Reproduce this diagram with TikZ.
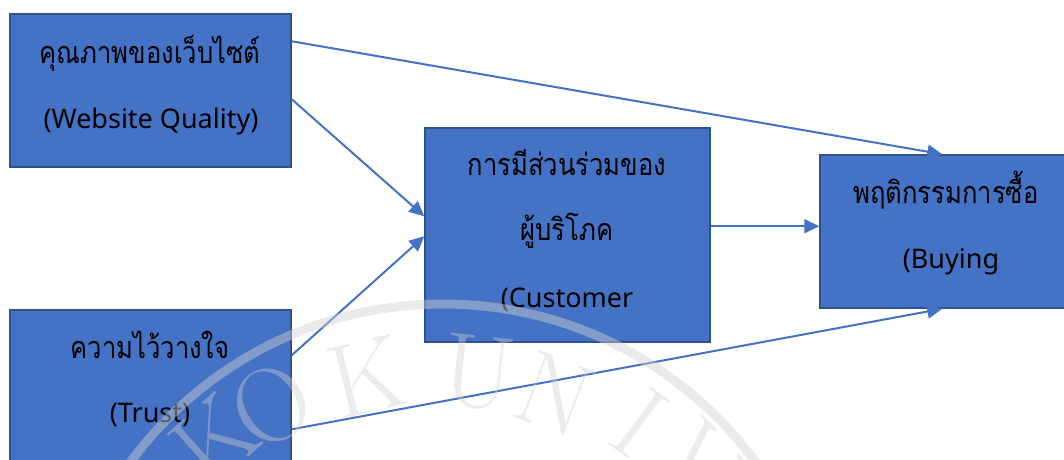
\documentclass[tikz,border=0pt]{standalone}
\usepackage{fontspec}
\usetikzlibrary{arrows.meta,calc}
\newfontfamily\thaifont[Script=Thai,FakeStretch=0.84]{Loma}
\newfontfamily\latfont{Noto Sans}
\definecolor{boxfill}{HTML}{4472C4}
\definecolor{boxline}{HTML}{2F528F}
\definecolor{arrowc}{HTML}{4472C4}
\definecolor{wmgray}{HTML}{D0D0D0}
\tikzset{
  box/.style={draw=boxline, fill=boxfill, line width=1.5pt, inner sep=0pt},
  thl/.style={font=\thaifont\fontsize{30.5}{34}\selectfont, anchor=base, inner sep=0pt},
  lal/.style={font=\latfont\fontsize{27}{30}\selectfont, anchor=base, inner sep=0pt},
  conn/.style={draw=arrowc, line width=2pt, -{Triangle[length=15pt,width=14pt]}},
  wmring/.style={draw=wmgray, line width=9pt, opacity=0.45},
  wmletter/.style={text=wmgray, opacity=0.4, inner sep=0pt, font=\fontsize{105}{105}\selectfont},
}
\begin{document}
\begin{tikzpicture}[x=1pt,y=-1pt]
\useasboundingbox (0,0) rectangle (1064,459);
% boxes
\node[box, minimum width=281pt, minimum height=153pt] (A) at (150.5,90.5) {};
\node[box, minimum width=281pt, minimum height=153pt] (B) at (150.5,386.5) {};
\node[box, minimum width=285pt, minimum height=214pt] (C) at (567.5,235) {};
\node[box, minimum width=252pt, minimum height=153pt] (D) at (946,231.5) {};
% texts
\node[thl] (A1) at (150,63) {คุณภาพของเว็บไซต์};
\node[lal] (A2) at (151,128) {(Website Quality)};
\node[thl] (B1) at (150,358) {ความไว้วางใจ};
\node[lal] (B2) at (150,422) {(Trust)};
\node[thl] (C1) at (567,175) {การมีส่วนร่วมของ};
\node[thl] (C2) at (567,240) {ผู้บริโภค};
\node[lal] (C3) at (567,307) {(Customer};
\node[thl] (D1) at (946,203) {พฤติกรรมการซื้อ};
\node[lal] (D2) at (951,268) {(Buying};
% connectors
\draw[conn] ([yshift=-28pt]A.north east) -- ([xshift=123pt]D.north west);
\draw[conn] ([yshift=-86pt]A.north east) -- ([yshift=-89pt]C.north west);
\draw[conn] ([yshift=-46pt]B.north east) -- ([yshift=-109pt]C.north west);
\draw[conn] ([yshift=-120pt]B.north east) -- ([xshift=123pt]D.south west);
\draw[conn] ([yshift=-99pt]C.north east) -- ([yshift=-72pt]D.north west);
% watermark
\coordinate (wc) at (443,692);
\draw[wmring] (wc) circle[radius=388];
\node[wmletter, rotate=41.8] (w1) at (215,440) {K};
\node[wmletter, rotate=30.8] (w2) at (272,405) {O};
\node[wmletter, rotate=13.6] (w3) at (367,377) {K};
\node[wmletter, rotate=-6.3] (w4) at (478,373) {U};
\node[wmletter, rotate=-20.7] (w5) at (555,395) {N};
\node[wmletter, rotate=-36.6] (w6) at (640,423) {I};
\node[wmletter, rotate=-47.3] (w7) at (700,465) {V};
\end{tikzpicture}
\end{document}
